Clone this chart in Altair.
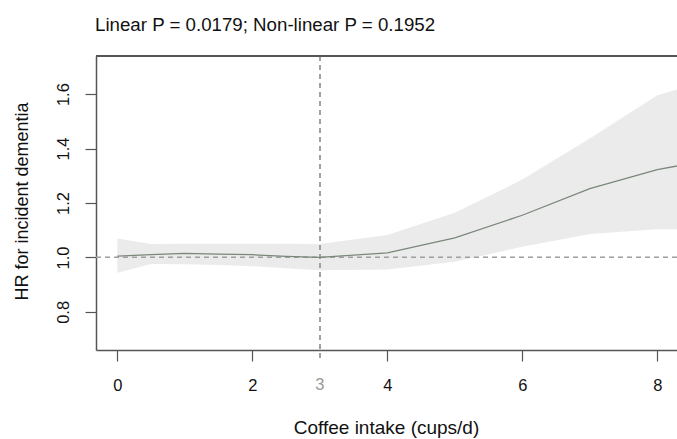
import altair as alt
import pandas as pd

# Restricted cubic spline: coffee intake vs hazard ratio for incident dementia
cups = [0, 0.5, 1, 1.5, 2, 2.5, 3, 4, 5, 6, 7, 8, 8.5]
hr = [1.005, 1.010, 1.015, 1.012, 1.010, 1.004, 1.000, 1.017, 1.072, 1.155, 1.253, 1.323, 1.345]
hr_upper = [1.070, 1.049, 1.050, 1.050, 1.050, 1.050, 1.049, 1.082, 1.164, 1.286, 1.437, 1.596, 1.632]
hr_lower = [0.944, 0.976, 0.975, 0.972, 0.968, 0.960, 0.953, 0.956, 0.984, 1.039, 1.086, 1.104, 1.104]

x_ticks = [0, 2, 4, 6, 8]
y_ticks = [0.8, 1.0, 1.2, 1.4, 1.6]
reference_cups = 3
reference_hr = 1.0
title_text = "Linear P = 0.0179; Non-linear P = 0.1952"

df = pd.DataFrame({"cups": cups, "hr": hr, "lo": hr_lower, "hi": hr_upper})

W, H = 581, 294
FONT = "Liberation Sans"

x_scale = alt.Scale(domain=[-0.316, 8.292], nice=False, zero=False)
y_scale = alt.Scale(domain=[0.66, 1.74], nice=False, zero=False)

x_axis = alt.Axis(
    values=x_ticks, format="d", title="Coffee intake (cups/d)", grid=False,
    tickSize=11, tickColor="#555555", tickWidth=1.2,
    domainColor="#555555", domainWidth=1.5,
    labelFont=FONT, labelFontSize=16.5, labelColor="#111111",
    labelBaseline="alphabetic", labelPadding=29,
    titleFont=FONT, titleFontSize=19, titleFontWeight="normal", titleColor="#111111",
    titleBaseline="alphabetic", titleX=290, titleY=83.5,
)
y_axis = alt.Axis(
    values=y_ticks, format=".1f", title="HR for incident dementia", grid=False,
    tickSize=11, tickColor="#555555", tickWidth=1.2,
    domainColor="#555555", domainWidth=1.5,
    labelFont=FONT, labelFontSize=16.5, labelColor="#111111",
    labelAngle=270, labelAlign="center", labelBaseline="alphabetic", labelPadding=17,
    titleFont=FONT, titleFontSize=18, titleFontWeight="normal", titleColor="#111111",
    titleAngle=270, titleBaseline="alphabetic", titleX=-69, titleY=145,
)

base = alt.Chart(df)

band = base.mark_area(color="#ebebeb", clip=True).encode(
    x=alt.X("cups:Q", scale=x_scale, axis=x_axis),
    y=alt.Y("lo:Q", scale=y_scale, axis=y_axis),
    y2="hi:Q",
)

h_ref = base.mark_rule(color="#a0a0a0", strokeDash=[5, 4], strokeWidth=1).encode(
    y=alt.datum(reference_hr)
)
v_ref = base.mark_rule(color="#a0a0a0", strokeDash=[5, 4], strokeWidth=1).encode(
    x=alt.datum(reference_cups), y=alt.value(0), y2=alt.value(H + 12)
)

curve = base.mark_line(color="#7a887a", strokeWidth=1.3, clip=True).encode(
    x="cups:Q", y="hr:Q"
)

top_border = base.mark_rule(color="#555555", strokeWidth=1.5).encode(
    x=alt.value(0), x2=alt.value(W), y=alt.value(0)
)

ref_label = alt.Chart(pd.DataFrame({"lab": [str(reference_cups)]})).mark_text(
    font=FONT, fontSize=16.5, color="#9a9a9a", baseline="alphabetic", align="center"
).encode(x=alt.datum(reference_cups), y=alt.value(H + 40), text="lab:N")

title = alt.Chart(pd.DataFrame({"t": [title_text]})).mark_text(
    font=FONT, fontSize=18.7, color="#111111", baseline="middle", align="left"
).encode(x=alt.value(-1), y=alt.value(-31), text="t:N")

chart = alt.layer(band, h_ref, v_ref, curve, top_border, ref_label, title).properties(
    width=W, height=H,
    autosize=alt.AutoSizeParams(type="none"),
    padding={"left": 96, "top": 56, "right": 0, "bottom": 89},
    background="white",
).configure_view(stroke="transparent")

chart.save("out.html", embed_options={"renderer": "svg", "actions": False})
